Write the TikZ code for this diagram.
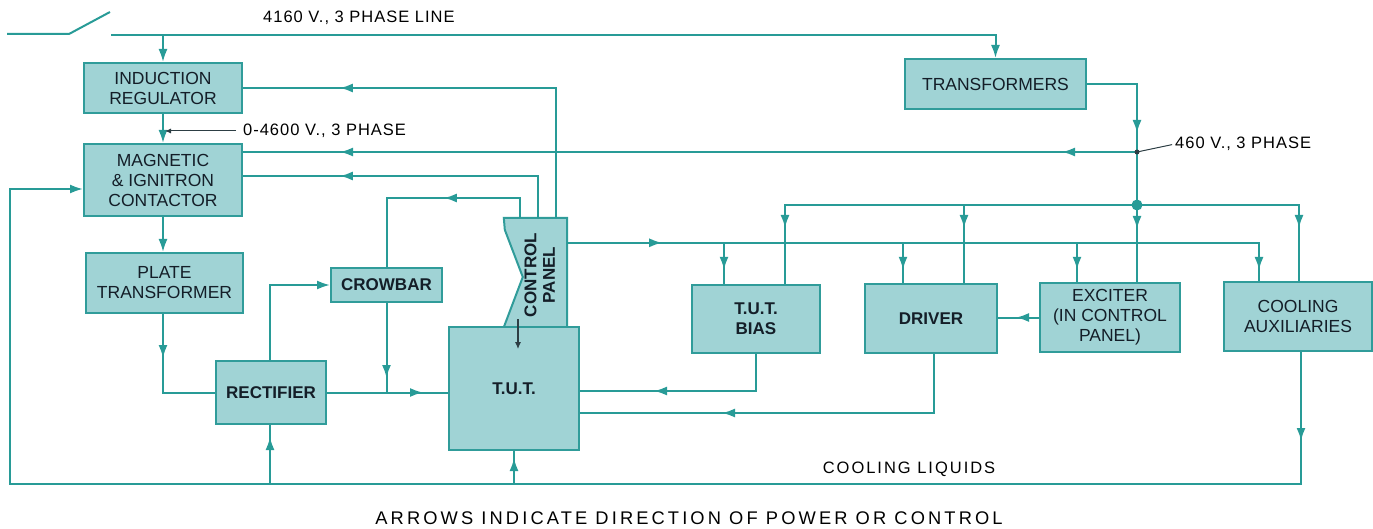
\documentclass[tikz,border=0pt]{standalone}
\usepackage{fontspec}
\setmainfont{Liberation Sans}
\newfontfamily\lblfont[LetterSpace=6]{Liberation Sans}
\newfontfamily\wlblfont[LetterSpace=12]{Liberation Sans}
\newfontfamily\capfont[LetterSpace=17]{Liberation Sans}
\usetikzlibrary{arrows.meta,decorations.markings,calc}
\definecolor{linecol}{RGB}{40,155,151}
\definecolor{boxfill}{RGB}{160,211,213}
\definecolor{boxline}{RGB}{48,156,154}
\definecolor{txtdark}{RGB}{20,30,40}
\definecolor{leadcol}{RGB}{45,62,68}
\tikzset{
 tipA/.tip={Latex[length=13pt,width=9pt]},
 conn/.style={draw=linecol, line width=2pt},
 marr/.style={postaction={decorate,decoration={markings,mark=at position #1 with {\arrow[color=linecol]{tipA}}}}},
 blk/.style={draw=boxline, fill=boxfill, line width=2pt, align=center, text=txtdark, inner sep=0pt, font=\fontsize{17.5}{20}\selectfont},
 bblk/.style={blk, font=\fontsize{17}{20}\selectfont\bfseries},
 lbl/.style={inner sep=0pt, text=black, font=\lblfont\fontsize{16.5}{20}\selectfont},
 leader/.style={draw=leadcol, line width=1pt},
}
\begin{document}
\begin{tikzpicture}[x=1pt,y=-1pt]
\useasboundingbox (0,0) rectangle (1373,529);

% boxes
\node[blk, minimum width=158pt, minimum height=50pt] (ir) at (163,88) {INDUCTION\\REGULATOR};
\node[blk, minimum width=158pt, minimum height=72pt] (mic) at (163,180) {MAGNETIC\\\& IGNITRON\\CONTACTOR};
\node[blk, minimum width=157pt, minimum height=60pt] (pt) at (164.5,283) {PLATE\\TRANSFORMER};
\node[bblk, minimum width=110pt, minimum height=63pt] (rect) at (271,392.5) {RECTIFIER};
\node[bblk, minimum width=111pt, minimum height=34pt] (crow) at (386.5,285) {CROWBAR};
\node[minimum width=63pt, minimum height=109pt, inner sep=0pt] (cp) at (535.5,272.5) {};
\draw[draw=boxline, fill=boxfill, line width=2pt] (cp.north west) -- (cp.north east) -- (cp.south east) -- (cp.south west) -- ($(cp.west)+(19,4.5)$) -- ($(cp.north west)+(1,12)$) -- cycle;
\node[rotate=90, inner sep=0pt, text=txtdark, font=\fontsize{17}{20}\selectfont\bfseries] (cpt1) at (530.5,275) {CONTROL};
\node[rotate=90, inner sep=0pt, text=txtdark, font=\fontsize{17}{20}\selectfont\bfseries] (cpt2) at (549,275) {PANEL};
\node[bblk, minimum width=130pt, minimum height=123pt] (tut) at (514,388.5) {T.U.T.};
\node[blk, minimum width=181pt, minimum height=50pt] (trans) at (995.5,84) {TRANSFORMERS};
\node[bblk, minimum width=128pt, minimum height=68pt] (bias) at (756,319) {T.U.T.\\BIAS};
\node[bblk, minimum width=132pt, minimum height=69pt] (drv) at (931,318.5) {DRIVER};
\node[blk, minimum width=140pt, minimum height=69pt] (exc) at (1110,317.5) {EXCITER\\(IN CONTROL\\PANEL)};
\node[blk, minimum width=148pt, minimum height=69pt] (cool) at (1298,316.5) {COOLING\\AUXILIARIES};

% switch and main line
\coordinate (sw0) at (7,34);
\coordinate (sw1) at (69,34);
\coordinate (sw2) at (110,12);
\draw[conn] (sw0) -- (sw1) -- (sw2);
\coordinate (ls) at (111,35);
\draw[conn,-{tipA}] (ls) -| (trans.north);
\draw[conn,-{tipA}] (ir.north |- ls) -- (ir.north);
\node[lbl, anchor=west] (lab4160) at (263,18) {4160 V., 3 PHASE LINE};

% IR -> MIC
\draw[conn,-{tipA}] (ir.south) -- (mic.north);
\node[lbl, anchor=west] (lab0) at (243,131) {0-4600 V., 3 PHASE};
\draw[leader,-{Latex[length=6pt,width=5pt]}, shorten <=7pt, shorten >=2pt] (lab0.west) -- (ir.south |- lab0.west);

% control panel -> IR, MIC, crowbar
\coordinate (cpA) at ($(cp.north)+(20.5,0)$);
\draw[conn, marr=346pt] (cpA) |- (ir.east);
\coordinate (cpB) at ($(cp.north)+(2.5,0)$);
\coordinate (micB) at ($(mic.east)+(0,-4)$);
\draw[conn, marr=240pt] (cpB) |- (micB);
\coordinate (cpC) at ($(cp.north)+(-15.5,0)$);
\coordinate (crT) at ($(crow.north)+(0,-69)$);
\draw[conn, marr=96pt] (cpC) |- (crT) -- (crow.north);

% 460 V junctions
\coordinate (j1) at (1137,152);
\coordinate (j2) at (1137,205);
\coordinate (micA) at ($(mic.east)+(0,-28)$);
\draw[conn, marr=75pt, marr=797pt] (j1) -- (micA);
\coordinate (exB) at ($(exc.north)+(27,0)$);
\draw[conn, marr=99pt, marr=195pt] (trans.east) -| (exB);
\coordinate (biB) at ($(bias.north)+(29,0)$);
\draw[conn, marr=375pt] (j2) -| (biB);
\coordinate (drB) at ($(drv.north)+(33,0)$);
\draw[conn, marr=23pt] (drB |- j2) -- (drB);
\coordinate (coB) at ($(cool.north)+(1,0)$);
\draw[conn, marr=185pt] (j2) -| (coB);
\fill[linecol] (j2) circle (5.5pt);
\fill[leadcol] (j1) circle (2.5pt);
\node[lbl, anchor=west] (lab460) at (1175,144) {460 V., 3 PHASE};
\draw[leader, shorten <=3pt] (lab460.west) -- (j1);

% control panel bus
\coordinate (cpD) at ($(cp.north east)+(0,25)$);
\coordinate (coA) at ($(cool.north)+(-39,0)$);
\draw[conn, marr=95pt, marr=719pt] (cpD) -| (coA);
\coordinate (biA) at ($(bias.north)+(-32,0)$);
\draw[conn, marr=27pt] (biA |- cpD) -- (biA);
\coordinate (drA) at ($(drv.north)+(-28,0)$);
\draw[conn, marr=27pt] (drA |- cpD) -- (drA);
\coordinate (exA) at ($(exc.north)+(-33,0)$);
\draw[conn, marr=27pt] (exA |- cpD) -- (exA);

% exciter -> driver
\draw[conn, marr=23pt] (exc.west) -- (exc.west -| drv.east);

% bias, driver -> TUT
\coordinate (tuA) at ($(tut.east)+(0,2.5)$);
\draw[conn, marr=139pt] (bias.south) |- (tuA);
\coordinate (drS) at ($(drv.south)+(3,0)$);
\coordinate (tuB) at ($(tut.east)+(0,24.5)$);
\draw[conn, marr=271pt] (drS) |- (tuB);

% power chain
\draw[conn,-{tipA}] (mic.south) -- (mic.south |- pt.north);
\coordinate (ptS) at ($(pt.south)+(-1.5,0)$);
\draw[conn, marr=44pt] (ptS) |- (rect.west);
\coordinate (reN) at ($(rect.north)+(-1,0)$);
\draw[conn,-{tipA}] (reN) |- (crow.west);
\draw[conn, marr=96pt] (rect.east) -- (tut.west |- rect.east);
\draw[conn, marr=75pt] (crow.south) -- (crow.south |- rect.east);

% control panel -> TUT
\coordinate (cpE) at ($(cp.south)+(-17.5,-8)$);
\coordinate (tuC) at ($(cp.south)+(-17.5,22)$);
\draw[leader, line width=1.5pt, -{Latex[length=7pt,width=6pt]}] (cpE) -- (tuC);

% cooling loop
\coordinate (cbl) at (10,484);
\coordinate (coS) at ($(cool.south)+(3,0)$);
\coordinate (micW) at ($(mic.west)+(0,9)$);
\draw[conn, marr=89pt, -{tipA}] (coS) |- (cbl) |- (micW);
\coordinate (reS) at ($(rect.south)+(-1,0)$);
\draw[conn, marr=47pt] (reS |- cbl) -- (reS);
\draw[conn, marr=26pt] (tut.south |- cbl) -- (tut.south);
\node[inner sep=0pt, text=black, font=\wlblfont\fontsize{16.5}{20}\selectfont] (coolliq) at (909,469) {COOLING LIQUIDS};

\node[inner sep=0pt, text=black, font=\capfont\fontsize{18.3}{20}\selectfont] (caption) at (689,518) {ARROWS INDICATE DIRECTION OF POWER OR CONTROL};
\end{tikzpicture}
\end{document}
